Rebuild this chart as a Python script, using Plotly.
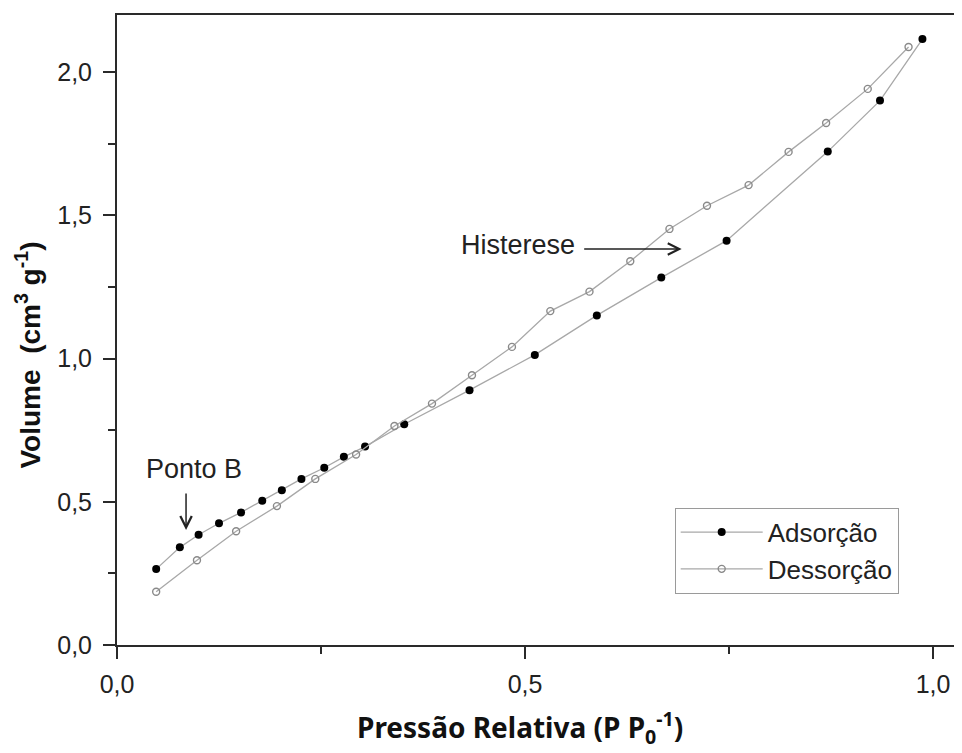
import plotly.graph_objects as go

# Adsorção (filled markers)
ads_x = [0.048, 0.077, 0.100, 0.125, 0.152, 0.178, 0.202, 0.226, 0.254, 0.278, 0.304,
         0.352, 0.432, 0.512, 0.588, 0.667, 0.747, 0.871, 0.935, 0.987]
ads_y = [0.265, 0.341, 0.385, 0.425, 0.463, 0.504, 0.540, 0.580, 0.619, 0.657, 0.693,
         0.771, 0.890, 1.013, 1.151, 1.283, 1.412, 1.723, 1.901, 2.116]

# Dessorção (open markers)
des_x = [0.048, 0.098, 0.146, 0.196, 0.243, 0.293, 0.340, 0.386, 0.435, 0.484, 0.531,
         0.579, 0.629, 0.677, 0.723, 0.774, 0.823, 0.869, 0.920, 0.970]
des_y = [0.186, 0.296, 0.397, 0.485, 0.580, 0.665, 0.765, 0.843, 0.942, 1.041, 1.166,
         1.234, 1.340, 1.453, 1.534, 1.606, 1.722, 1.823, 1.942, 2.088]

x_ticks = [0.0, 0.5, 1.0]
y_ticks = [0.0, 0.5, 1.0, 1.5, 2.0]

LINE = "#a8a8a8"
AX = "#2a2a2a"
FONT = "Liberation Sans, Arial"

fig = go.Figure()
fig.add_trace(go.Scatter(
    x=ads_x, y=ads_y, mode="lines+markers", name="Adsorção", legendgroup="a",
    line=dict(color=LINE, width=1.3),
    marker=dict(symbol="circle", size=8, color="black", line=dict(width=0)),
))
fig.add_trace(go.Scatter(
    x=des_x, y=des_y, mode="lines+markers", name="Dessorção", legendgroup="d",
    line=dict(color=LINE, width=1.3),
    marker=dict(symbol="circle-open", size=7, color="#8a8a8a", line=dict(width=1.4)),
))

fig.add_annotation(x=0.0846, y=0.402, ax=0, ay=-38, xref="x", yref="y",
                   text="", showarrow=True, arrowhead=5, arrowsize=1.5, arrowwidth=1.5,
                   arrowcolor="#222")
fig.add_annotation(x=0.094, y=0.615, xref="x", yref="y", text="Ponto B", showarrow=False,
                   font=dict(family=FONT, size=27, color="#222"))
fig.add_annotation(x=0.692, y=1.383, ax=-99, ay=0, xref="x", yref="y",
                   text="", showarrow=True, arrowhead=5, arrowsize=1.5, arrowwidth=1.5,
                   arrowcolor="#222")
fig.add_annotation(x=0.491, y=1.397, xref="x", yref="y", text="Histerese", showarrow=False,
                   font=dict(family=FONT, size=27, color="#222"))

# Axis titles
fig.add_annotation(xref="paper", yref="paper", x=0.477, y=-0.131, xanchor="center", yanchor="middle",
                   text="<b>Pressão Relativa (P P<sub>0</sub><sup>-1</sup>)</b>", showarrow=False,
                   font=dict(family="Noto Sans", size=28, color="#111"))
fig.add_annotation(xref="paper", yref="paper", x=-0.105, y=0.46, xanchor="center", yanchor="middle",
                   text="<b>Volume  (cm<sup>3</sup> g<sup>-1</sup>)</b>", showarrow=False, textangle=-90,
                   font=dict(family=FONT, size=28, color="#111"))

# the page body has an 8px margin, so the figure is shrunk and shifted to compensate
fig.update_layout(
    width=954, height=745,
    margin=dict(l=109, r=0, t=7, b=108, autoexpand=False),
    paper_bgcolor="white", plot_bgcolor="white",
    separators=",.",
    font=dict(family=FONT, size=25, color="#222"),
    showlegend=True,
    legend=dict(x=0.660, y=0.218, xanchor="left", yanchor="top",
                bgcolor="white", bordercolor="#9a9a9a", borderwidth=1,
                font=dict(family=FONT, size=26, color="#222"),
                itemwidth=82, tracegroupgap=0),
    xaxis=dict(range=[0, 1.0355], tickvals=x_ticks, tickformat=".1f", automargin=False,
               showgrid=False, zeroline=False, showline=True, linecolor=AX, linewidth=2,
               mirror=True, ticks="outside", ticklen=12, tickwidth=2, tickcolor=AX,
               ticklabelstandoff=4,
               minor=dict(tickvals=[0.25, 0.75], ticks="outside", ticklen=7, tickwidth=2, tickcolor=AX)),
    yaxis=dict(range=[0, 2.2], tickvals=y_ticks, tickformat=".1f", automargin=False,
               showgrid=False, zeroline=False, showline=True, linecolor=AX, linewidth=2,
               ticks="outside", ticklen=12, tickwidth=2, tickcolor=AX,
               ticklabelstandoff=6,
               minor=dict(tickvals=[0.25, 0.75, 1.25, 1.75], ticks="outside", ticklen=7, tickwidth=2, tickcolor=AX)),
)

fig.write_html("out.html")
